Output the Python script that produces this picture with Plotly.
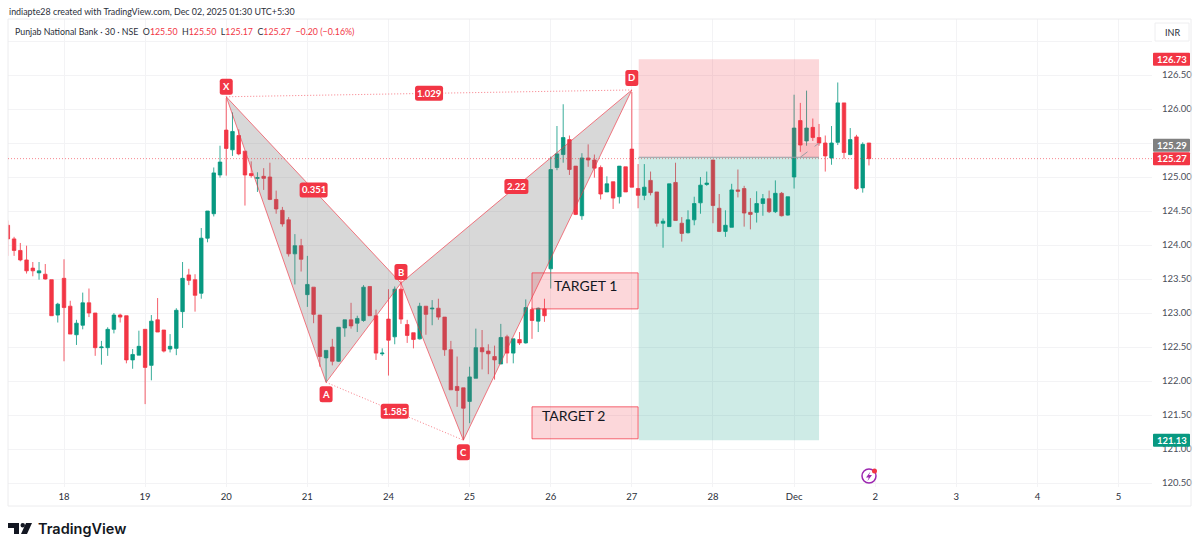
import numpy as np
import plotly.graph_objects as go

# 30 minute bars, bar 0 is the first bar of the 18th
first_bar = -9
opens = [
    124.29, 124.09, 123.92, 123.78, 123.66, 123.59, 123.57, 123.49, 122.97,
    123.51, 123.10, 122.68, 122.82, 123.15, 123.00, 122.49, 122.49, 122.76, 122.97, 122.96, 122.31, 122.38,
    122.76, 122.23, 122.90, 122.75, 122.47, 122.48, 123.02, 123.56, 123.49, 123.29, 124.10, 124.46, 125.03,
    125.69, 125.40, 125.61, 125.38, 125.05, 124.98, 125.01, 125.00, 124.67, 124.51, 124.37, 123.87, 123.99,
    123.27, 123.38, 122.97, 122.34, 122.50, 122.29, 122.78, 122.90, 122.85, 122.89, 123.39,
    122.96, 122.40, 122.91, 122.65, 123.35, 122.83, 122.71, 122.62, 123.10, 123.06, 123.07, 122.94, 122.46,
    121.92, 121.90, 121.70, 122.04, 122.49, 122.44, 122.36, 122.25, 122.65, 122.41, 122.61, 122.56,
    123.05, 122.88, 123.06, 123.65, 125.14, 125.33, 125.55, 125.16, 124.43, 125.28, 125.25, 125.14,
    124.78, 124.93, 124.71, 125.15, 125.41, 124.83, 124.73, 124.95, 124.78, 124.32, 124.27, 124.92,
    124.32, 124.18, 124.37, 124.62, 124.89, 125.25, 124.54, 124.20, 124.26, 124.81, 124.83, 124.48,
    124.48, 124.61, 124.68, 124.49, 124.76, 124.44, 125.00, 125.83, 125.53, 125.73, 125.58,
    125.50, 125.28, 125.51, 126.09, 125.33, 125.59, 124.84, 125.50,
]
highs = [
    124.36, 124.12, 124.03, 123.99, 123.75, 123.75, 123.72, 123.49, 123.15,
    123.79, 123.18, 122.90, 123.30, 123.36, 123.00, 122.59, 122.79, 123.00, 122.99, 122.96, 122.47, 122.74,
    122.76, 122.97, 123.22, 122.75, 122.69, 123.07, 123.75, 123.65, 123.57, 124.25, 124.50, 125.14, 125.46,
    126.16, 125.95, 125.70, 125.38, 125.23, 125.07, 125.13, 125.21, 124.80, 124.56, 124.41, 124.16, 124.09,
    123.84, 123.38, 122.97, 122.45, 122.62, 122.79, 122.90, 123.15, 122.96, 123.41, 123.39,
    123.05, 122.48, 123.35, 123.39, 123.48, 122.90, 122.71, 123.15, 123.10, 123.19, 123.21, 122.94, 122.59,
    122.36, 121.90, 122.21, 122.77, 122.75, 122.54, 122.52, 122.84, 122.68, 122.62, 122.72, 123.20,
    123.08, 123.08, 123.21, 125.30, 125.75, 126.07, 125.61, 125.16, 125.35, 125.48, 125.33, 125.17,
    125.01, 124.93, 125.16, 125.15, 126.25, 125.19, 125.19, 125.08, 124.78, 124.39, 124.90, 125.21,
    124.41, 124.51, 124.71, 125.00, 125.08, 125.25, 124.75, 124.51, 124.90, 125.11, 124.87, 124.69,
    124.79, 124.75, 124.80, 124.95, 124.78, 124.71, 126.21, 126.09, 126.27, 125.86, 125.78,
    125.61, 125.75, 126.39, 126.09, 125.72, 125.62, 125.51, 125.50,
]
lows = [
    123.84, 123.84, 123.76, 123.58, 123.54, 123.49, 123.49, 122.96, 122.86,
    122.29, 122.69, 122.53, 122.76, 122.94, 122.37, 122.24, 122.37, 122.70, 122.86, 122.26, 122.18, 122.38,
    121.66, 122.01, 122.72, 122.42, 122.42, 122.38, 122.78, 123.41, 123.02, 123.21, 124.04, 124.42, 124.99,
    125.02, 125.31, 125.32, 124.58, 124.99, 124.78, 124.81, 124.66, 124.46, 124.27, 123.83, 123.42, 123.61,
    123.09, 122.85, 122.21, 121.99, 122.23, 122.28, 122.65, 122.77, 122.72, 122.87, 122.96,
    122.31, 122.37, 122.08, 122.54, 122.84, 122.56, 122.48, 122.61, 122.68, 122.82, 122.90, 122.37, 121.87,
    121.62, 121.13, 121.38, 122.04, 122.17, 122.10, 122.02, 122.25, 122.26, 122.26, 122.53, 122.55,
    122.62, 122.72, 122.87, 123.36, 125.10, 125.21, 125.03, 124.44, 124.37, 125.15, 124.99, 124.67,
    124.78, 124.53, 124.61, 124.78, 124.85, 124.54, 124.66, 124.73, 124.27, 123.96, 124.27, 124.36,
    124.05, 124.17, 124.29, 124.46, 124.87, 124.32, 124.19, 124.12, 124.26, 124.70, 124.27, 124.23,
    124.33, 124.43, 124.47, 124.47, 124.42, 124.43, 124.83, 125.37, 125.46, 125.53, 125.46,
    125.08, 125.18, 125.47, 125.27, 125.32, 124.81, 124.77, 125.17,
]
closes = [
    124.09, 123.92, 123.78, 123.62, 123.62, 123.62, 123.50, 122.96, 123.13,
    123.08, 122.69, 122.85, 123.15, 123.00, 122.49, 122.50, 122.76, 122.97, 122.94, 122.31, 122.39, 122.51,
    122.20, 122.88, 122.72, 122.44, 122.51, 123.04, 123.51, 123.48, 123.26, 124.10, 124.50, 125.06, 125.22,
    125.42, 125.67, 125.34, 125.03, 125.02, 124.99, 124.98, 124.67, 124.53, 124.31, 123.87, 123.99, 123.79,
    123.42, 122.98, 122.36, 122.45, 122.29, 122.79, 122.90, 122.81, 122.92, 123.38, 122.96,
    122.41, 122.41, 122.60, 123.35, 122.91, 122.67, 122.61, 123.10, 122.98, 123.07, 122.94, 122.46, 121.87,
    121.86, 121.60, 122.06, 122.49, 122.43, 122.40, 122.31, 122.64, 122.41, 122.62, 122.56, 123.08,
    122.89, 123.07, 122.96, 125.11, 125.34, 125.58, 125.11, 124.45, 125.28, 125.25, 125.13, 124.75,
    124.90, 124.69, 125.16, 124.78, 124.85, 124.73, 124.85, 124.77, 124.32, 124.35, 124.90, 124.36,
    124.17, 124.37, 124.61, 124.88, 124.91, 124.58, 124.20, 124.29, 124.81, 124.79, 124.47, 124.45,
    124.61, 124.68, 124.49, 124.76, 124.43, 124.71, 125.72, 125.47, 125.72, 125.58, 125.50,
    125.31, 125.50, 126.09, 125.36, 125.55, 124.83, 125.48, 125.27,
]
assert len(opens) == len(highs) == len(lows) == len(closes) == 139

# XABCD harmonic pattern
pattern_names = ["X", "A", "B", "C", "D"]
pattern_bars = [26, 42, 54, 64, 91]
pattern_prices = [126.18, 121.98, 123.44, 121.13, 126.28]

# session starts on the time axis
day_bars = [0, 13, 26, 39, 52, 65, 78, 91, 104, 117, 130, 143, 156, 169]
day_labels = ["18", "19", "20", "21", "24", "25", "26", "27", "28", "Dec", "2", "3", "4", "5"]

# 125.50 sits under the 125.29 tag in the reference, 127 has a grid line only
price_ticks = [120.5, 121.0, 121.5, 122.0, 122.5, 123.0, 123.5, 124.0, 124.5, 125.0, 125.5, 126.0, 126.5, 127.0]
price_tick_labels = ["120.50", "121.00", "121.50", "122.00", "122.50", "123.00", "123.50", "124.00",
                     "124.50", "125.00", "", "126.00", "126.50", ""]

# position tool and the two target boxes
pos_start, pos_end = 92.1, 121.0
stop_price, entry_price, target_price = 126.73, 125.29, 121.13
last_price = 125.27
pnl_start, pnl_price = 118.0, 125.50
target_start, target_end = 75.0, 92.0
target1_top, target1_bottom = 123.59, 123.06
target2_top, target2_bottom = 121.62, 121.15

UP = "#089981"
DOWN = "#f23645"
FONT = "Lato"
W, H = 1199, 551
PLOT_L, PLOT_R, PLOT_T, PLOT_B = 8, 1152, 19, 487
DOTS = "1px,2px"


def paper_x(px):
    return (px - PLOT_L) / (PLOT_R - PLOT_L)


def paper_y(py):
    return (PLOT_B - py) / (PLOT_B - PLOT_T)


def round_path(cx, cy, w, h, r):
    # rounded box, offsets in pixels from the shape's anchor
    x0, x1, y0, y1 = cx - w / 2, cx + w / 2, cy - h / 2, cy + h / 2
    return (f"M{x0 + r},{y0} L{x1 - r},{y0} Q{x1},{y0} {x1},{y0 + r} L{x1},{y1 - r} Q{x1},{y1} {x1 - r},{y1} "
            f"L{x0 + r},{y1} Q{x0},{y1} {x0},{y1 - r} L{x0},{y0 + r} Q{x0},{y0} {x0 + r},{y0} Z")


def tag_shape(xref, x, y, w, h, color, yoff=0, r=2.5):
    return dict(type="path", xref=xref, yref="y", xsizemode="pixel", ysizemode="pixel",
                xanchor=x, yanchor=y, path=round_path(0, yoff, w, h, r),
                fillcolor=color, line=dict(width=0))


def paper_rect(x0, y0, x1, y1, kind="rect", **kw):
    return dict(type=kind, xref="paper", yref="paper", x0=paper_x(x0), x1=paper_x(x1),
                y0=paper_y(y0), y1=paper_y(y1), **kw)


def paper_poly(pts, color):
    return dict(type="path", xref="paper", yref="paper", line=dict(width=0), fillcolor=color,
                path="M" + " L".join(f"{paper_x(a)},{paper_y(b)}" for a, b in pts) + " Z")


def text_note(text, x, y, xref="x", yref="y", size=10, color="white", yshift=0, xanchor="center",
              family=FONT, weight="normal"):
    return dict(text=text, x=x, y=y, xref=xref, yref=yref, showarrow=False, yshift=yshift,
                xanchor=xanchor, yanchor="middle",
                font=dict(family=family, size=size, color=color, weight=weight))


bars = np.arange(len(opens)) + first_bar
fig = go.Figure()

fig.add_trace(go.Candlestick(
    x=bars, open=opens, high=highs, low=lows, close=closes,
    whiskerwidth=0,
    increasing=dict(line=dict(color="rgba(8,153,129,0.8)", width=1), fillcolor=UP),
    decreasing=dict(line=dict(color="rgba(242,54,69,0.8)", width=1), fillcolor=DOWN),
    showlegend=False,
))

# two pattern triangles
for idx in ([0, 1, 2, 0], [2, 3, 4, 2]):
    fig.add_trace(go.Scatter(
        x=[pattern_bars[i] for i in idx], y=[pattern_prices[i] for i in idx],
        mode="lines", fill="toself", fillcolor="rgba(110,110,110,0.27)",
        line=dict(color="rgba(242,54,69,0.65)", width=1), showlegend=False,
    ))
# dotted ratio lines
for a, b in ((0, 4), (1, 3)):
    fig.add_trace(go.Scatter(
        x=[pattern_bars[a], pattern_bars[b]], y=[pattern_prices[a], pattern_prices[b]],
        mode="lines", line=dict(color="rgba(242,54,69,0.65)", width=1, dash=DOTS), showlegend=False,
    ))

shapes = [
    # frame around the chart
    paper_rect(8, 19, 1191, 506, line=dict(color="#ececee", width=1), fillcolor="rgba(0,0,0,0)"),
    # last price line
    dict(type="line", xref="paper", yref="y", x0=0, x1=1, y0=last_price, y1=last_price,
         line=dict(color="rgba(242,54,69,0.6)", width=1, dash=DOTS)),
    # position tool
    dict(type="rect", x0=pos_start, x1=pos_end, y0=entry_price, y1=stop_price,
         fillcolor="rgba(242,54,69,0.2)", line=dict(width=0)),
    dict(type="rect", x0=pos_start, x1=pos_end, y0=target_price, y1=entry_price,
         fillcolor="rgba(8,153,129,0.2)", line=dict(width=0)),
    dict(type="line", x0=pos_start, x1=pos_end, y0=entry_price, y1=entry_price,
         line=dict(color="#9a9ca3", width=1)),
    dict(type="path", path=f"M{pnl_start},{entry_price} L{pos_end},{entry_price} L{pos_end},{pnl_price} "
                           f"L{pnl_start},{pnl_price} Z",
         fillcolor="rgba(242,54,69,0.15)", line=dict(width=0)),
    dict(type="line", x0=pnl_start, x1=pos_end, y0=entry_price, y1=pnl_price,
         line=dict(color="#9a9ca3", width=1, dash="dash")),
    # target boxes
    dict(type="rect", x0=target_start, x1=target_end, y0=target1_bottom, y1=target1_top,
         fillcolor="rgba(242,54,69,0.2)", line=dict(color="rgba(242,54,69,0.75)", width=1)),
    dict(type="rect", x0=target_start, x1=target_end, y0=target2_bottom, y1=target2_top,
         fillcolor="rgba(242,54,69,0.2)", line=dict(color="rgba(242,54,69,0.75)", width=1)),
    # INR box
    paper_rect(1155, 23, 1189, 41, line=dict(color="#eeeef0", width=1), fillcolor="white"),
]

annotations = [
    text_note("indiapte28 created with TradingView.com, Dec 02, 2025 01:30 UTC+5:30",
              paper_x(7), paper_y(11), "paper", "paper", size=8.9, color="#2a2e39", xanchor="left"),
    text_note("Punjab National Bank · 30 · NSE&#160;&#160;O<span style='color:#f23645'>125.50</span>&#160;"
              "&#160;H<span style='color:#f23645'>125.50</span>&#160;&#160;L<span style='color:#f23645'>125.17</span>"
              "&#160;&#160;C<span style='color:#f23645'>125.27</span>&#160;&#160;"
              "<span style='color:#f23645'>−0.20 (−0.16%)</span>",
              paper_x(13), paper_y(31), "paper", "paper", size=8.8, color="#2a2e39", xanchor="left"),
    text_note("INR", paper_x(1172), paper_y(32), "paper", "paper", size=9, color="#2a2e39"),
    text_note("TARGET 1", 83.5, 123.40, size=14, color="#131722"),
    text_note("TARGET 2", 81.6, 121.49, size=14, color="#131722"),
    text_note("TradingView", paper_x(36), paper_y(528), "paper", "paper", size=14.5, color="#131722",
              xanchor="left", family="Inter", weight=600),
]

# pattern letters above or below their points
letter_offsets = [10, -12, 11, -12, 12]
for name, bar, price, off in zip(pattern_names, pattern_bars, pattern_prices, letter_offsets):
    shapes.append(tag_shape("x", bar, price, 13, 16, DOWN, yoff=off))
    annotations.append(text_note(name, bar, price, yshift=off, size=9.5, weight="bold"))

# ratios sit at the middle of the leg they measure
for a, b, ratio in ((0, 2, "0.351"), (2, 4, "2.22"), (0, 4, "1.029"), (1, 3, "1.585")):
    mid_x = (pattern_bars[a] + pattern_bars[b]) / 2
    mid_y = (pattern_prices[a] + pattern_prices[b]) / 2
    shapes.append(tag_shape("x", mid_x, mid_y, 28 if ratio != "2.22" else 24, 15, DOWN))
    annotations.append(text_note(ratio, mid_x, mid_y, size=9.5, weight="bold"))

# tags on the price axis
for price, color, off, label in ((stop_price, DOWN, 0, "126.73"), (entry_price, "#808080", 12, "125.29"),
                                 (last_price, DOWN, 0, "125.27"), (target_price, UP, 0, "121.13")):
    shapes.append(tag_shape("paper", paper_x(1171.5), price, 37, 13, color, yoff=off, r=1))
    annotations.append(text_note(label, paper_x(1171.5), price, "paper", "y", size=9.5, yshift=off,
                                 weight="bold"))

# bolt badge
bolt = [(870.5, 471.5), (866, 477.5), (868.8, 477.5), (867.5, 481), (872, 475), (869, 475)]
shapes += [
    paper_rect(862, 469, 876, 483, kind="circle", line=dict(color="#9c27b0", width=1.5), fillcolor="white"),
    paper_poly(bolt, "#9c27b0"),
    paper_rect(872, 468.5, 877, 473.5, kind="circle", line=dict(width=0), fillcolor="#f23645"),
]

# TradingView mark
logo_t = [(8, 523), (19, 523), (19, 534), (14, 534), (14, 528), (8, 528)]
logo_slash = [(26, 523), (32, 523), (27, 534), (21, 534)]
shapes += [paper_poly(logo_t, "#131722"), paper_poly(logo_slash, "#131722"),
           paper_rect(20.5, 523, 25, 527.5, kind="circle", line=dict(width=0), fillcolor="#131722")]

fig.update_layout(
    width=W, height=H,
    margin=dict(l=PLOT_L, r=W - PLOT_R, t=PLOT_T, b=H - PLOT_B, autoexpand=False),
    paper_bgcolor="white", plot_bgcolor="white",
    boxgap=0.2,
    showlegend=False,
    shapes=shapes,
    annotations=annotations,
    font=dict(family=FONT, color="#2a2e39"),
    xaxis=dict(
        range=[(PLOT_L - 64) / 6.24, (PLOT_R - 64) / 6.24],
        rangeslider=dict(visible=False),
        tickmode="array", tickvals=day_bars, ticktext=day_labels,
        tickfont=dict(size=9.5, color="#2a2e39"),
        ticks="outside", ticklen=1, tickcolor="rgba(0,0,0,0)",
        showgrid=True, gridcolor="#f3f3f5", gridwidth=1,
        zeroline=False, showline=False,
    ),
    yaxis=dict(
        side="right",
        range=[121 + (449 - PLOT_B) / 68, 121 + (449 - PLOT_T) / 68],
        tickmode="array", tickvals=price_ticks, ticktext=price_tick_labels,
        tickfont=dict(size=9.5, color="#4a4e59"),
        ticks="outside", ticklen=7, tickcolor="rgba(0,0,0,0)",
        showgrid=True, gridcolor="#f3f3f5", gridwidth=1,
        zeroline=False, showline=False,
    ),
)

fig.write_html("out.html", config=dict(displayModeBar=False), post_script="document.body.style.margin='0';")
